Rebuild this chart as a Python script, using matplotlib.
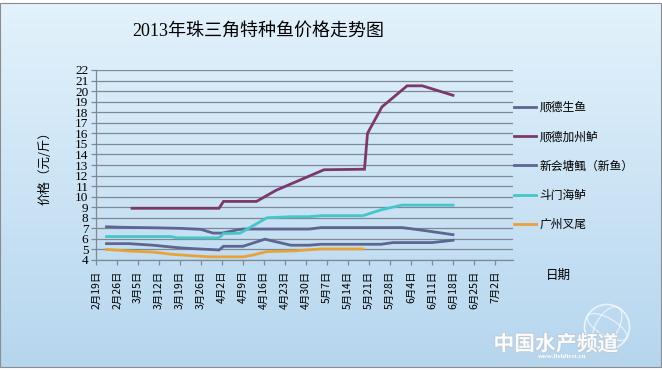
import matplotlib
matplotlib.use("Agg")
import matplotlib.pyplot as plt
import numpy as np
from matplotlib.patches import Rectangle, Circle, Ellipse
import matplotlib.patheffects as pe

plt.rcParams['font.family'] = ['Noto Sans CJK SC', 'DejaVu Sans']

# ---- data (x = days after 2月19日) ----
tick_labels = ["2月19日", "2月26日", "3月5日", "3月12日", "3月19日", "3月26日", "4月2日",
               "4月9日", "4月16日", "4月23日", "4月30日", "5月7日", "5月14日", "5月21日",
               "5月28日", "6月4日", "6月11日", "6月18日", "6月25日", "7月2日"]

sd_sy_days = [3.5, 8, 20, 28, 35, 39, 42, 47, 49, 71, 75, 102, 108, 119]
sd_sy_vals = [7.15, 7.1, 7.05, 7.0, 6.9, 6.55, 6.55, 6.85, 6.93, 6.93, 7.07, 7.07, 6.85, 6.4]

sd_jzl_days = [12, 41, 42.5, 53.5, 60, 76, 89.5, 90.5, 95.3, 103.7, 108.8, 119]
sd_jzl_vals = [8.9, 8.9, 9.55, 9.55, 10.6, 12.55, 12.6, 16.0, 18.5, 20.5, 20.5, 19.6]

xh_ts_days = [3.5, 11, 19, 28, 31, 41, 42.5, 49, 56.3, 65, 71, 75, 95, 99, 112, 119]
xh_ts_vals = [5.55, 5.55, 5.4, 5.15, 5.1, 4.95, 5.3, 5.3, 5.97, 5.4, 5.4, 5.49, 5.49, 5.65, 5.65, 5.87]

dm_hl_days = [3.5, 25, 27, 41, 42.5, 48, 57, 65, 71, 75, 89, 95, 102, 119]
dm_hl_vals = [6.22, 6.22, 6.1, 6.1, 6.5, 6.54, 8.0, 8.1, 8.1, 8.2, 8.2, 8.75, 9.2, 9.2]

gz_cw_days = [3.5, 11, 19, 25, 31, 38, 49, 52, 57, 66, 75, 89]
gz_cw_vals = [5.0, 4.85, 4.75, 4.55, 4.42, 4.3, 4.3, 4.45, 4.8, 4.86, 5.05, 5.05]

series = [
    ("顺德生鱼", sd_sy_days, sd_sy_vals, "#5c6691"),
    ("顺德加州鲈", sd_jzl_days, sd_jzl_vals, "#7c386a"),
    ("新会塘鲺（新鱼）", xh_ts_days, xh_ts_vals, "#5c6691"),
    ("斗门海鲈", dm_hl_days, dm_hl_vals, "#45c6c8"),
    ("广州叉尾", gz_cw_days, gz_cw_vals, "#e8a23a"),
]

W, H = 662, 370
fig = plt.figure(figsize=(W / 100, H / 100), dpi=100)
fig.patch.set_facecolor("white")

# background gradient
bg = fig.add_axes([0, 3 / H, 1, 364 / H], zorder=-10)
grad = np.linspace(0, 1, 256)[:, None]
top = np.array([0xe3, 0xf2, 0xfc]) / 255
bot = np.array([0xb6, 0xd6, 0xee]) / 255
img = top[None, None, :] * (1 - grad[:, :, None]) + bot[None, None, :] * grad[:, :, None]
bg.imshow(img, aspect="auto", extent=[0, 1, 0, 1])
bg.set_axis_off()
fig.patches.append(Rectangle((0, 3 / H), 1 - 1 / W, 364 / H, transform=fig.transFigure,
                             fill=False, edgecolor="#8c8c8c", lw=0.8, zorder=5))

ax = fig.add_axes([96 / W, 1 - 260 / H, (513 - 96) / W, (260 - 70) / H])
ax.patch.set_alpha(0)

for name, d, v, c in series:
    ax.plot(d, v, color=c, lw=2.0, label=name, solid_joinstyle="miter")

ax.set_xlim(0, 139)
ax.set_ylim(4, 22)
ax.set_yticks(range(4, 23))
ax.set_xticks(np.arange(len(tick_labels)) * 7)
ax.set_xticklabels(tick_labels, rotation=90, fontsize=7.5)
for lab in ax.get_yticklabels():
    lab.set_family(['Liberation Serif', 'Noto Sans CJK SC'])
    lab.set_fontsize(9.5)
ax.yaxis.grid(True, color="#7f8893", lw=0.9)
ax.set_axisbelow(True)
for s in ["top", "right"]:
    ax.spines[s].set_visible(False)
for s in ["left", "bottom"]:
    ax.spines[s].set_color("#7f8893")
    ax.spines[s].set_linewidth(0.9)
ax.tick_params(axis="both", color="#7f8893", length=3.5, width=0.9)
ax.tick_params(axis="x", pad=4)
ax.tick_params(axis="y", pad=2)

leg = ax.legend(loc="upper left", bbox_to_anchor=(514 / W, 1 - 101 / H),
                bbox_transform=fig.transFigure, frameon=False, fontsize=8.5,
                handlelength=1.9, handletextpad=0.25, labelspacing=1.38,
                borderpad=0, borderaxespad=0)

fig.text(258 / W, 1 - 31 / H, "2013年珠三角特种鱼价格走势图", ha="center", va="center",
         fontsize=13, family=['Liberation Serif', 'Noto Sans CJK SC'])
fig.text(45 / W, 1 - 165 / H, "价格（元/斤）", rotation=90, ha="center", va="center", fontsize=9)
fig.text(558 / W, 1 - 275 / H, "日期", ha="center", va="center", fontsize=9)

# watermark
gl = fig.add_axes([582 / W, 1 - 352 / H, 50 / W, 50 / H], zorder=-5)
gl.set_xlim(-1, 1); gl.set_ylim(-1, 1); gl.set_axis_off(); gl.set_aspect("equal")
gl.add_patch(Circle((0, 0), 0.9, fill=False, ec="white", lw=1.2, alpha=0.7))
gl.add_patch(Ellipse((0, 0), 0.9, 1.8, angle=-30, fill=False, ec="white", lw=1.0, alpha=0.6))
gl.add_patch(Ellipse((0, 0), 1.8, 0.7, angle=-30, fill=False, ec="white", lw=1.0, alpha=0.6))
fig.text(556 / W, 1 - 344 / H, "中国水产频道", ha="center", va="center", fontsize=15,
         color="white", style="italic", fontweight="bold", alpha=0.9,
         path_effects=[pe.withStroke(linewidth=1.2, foreground="#b9c8d6")])
fig.text(562 / W, 1 - 356 / H, "www.fishfirst.cn", ha="center", va="center", fontsize=5,
         color="white", family="Liberation Serif", fontweight="bold")

fig.savefig("out.png", dpi=100)
